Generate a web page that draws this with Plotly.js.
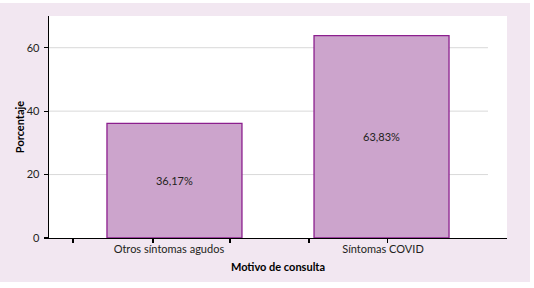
<!DOCTYPE html>
<html>
<head>
<meta charset="utf-8">
<script src="https://cdn.plot.ly/plotly-3.0.1.min.js"></script>
<style>
html,body{margin:0;padding:0;background:#ffffff;}
#chart{position:absolute;left:0;top:3px;width:530px;height:279px;}
</style>
</head>
<body>
<div id="chart"></div>
<script>
const categories = ["Otros síntomas agudos", "Síntomas COVID"];
const values = [36.17, 63.83];
const yTicks = [0, 20, 40, 60];

const xPos = categories.map((c, i) => i + 1);
const labelPos = [0.973, 2.007];
const tickMarks = [0.51, 0.896, 1.268, 1.65, 2.027];

const trace = {
  type: 'bar',
  x: xPos,
  y: values,
  width: 0.652,
  marker: {color: '#CCA4CC', line: {color: '#8C1F8E', width: 1.3}},
  texttemplate: '%{y:.2f}%',
  textposition: 'inside',
  insidetextanchor: 'middle',
  textfont: {family: 'Lato, sans-serif', size: 11, color: '#231F20'},
  hoverinfo: 'none'
};

const gridShapes = yTicks.filter(v => v > 0).map(v => ({
  type: 'line', layer: 'below',
  xref: 'paper', x0: 0, x1: 0.9585,
  yref: 'y', y0: v, y1: v,
  line: {color: '#D9D9D9', width: 1}
}));

const layout = {
  width: 530, height: 279,
  margin: {l: 49, r: 23, t: 13, b: 44, pad: 0},
  paper_bgcolor: '#F2E7F1',
  plot_bgcolor: '#ffffff',
  separators: ',.',
  showlegend: false,
  font: {family: 'Lato, sans-serif', size: 11, color: '#231F20'},
  shapes: gridShapes,
  xaxis: {
    range: [0.394, 2.606],
    tickmode: 'array',
    tickvals: labelPos,
    ticktext: categories,
    ticks: '',
    showgrid: false,
    zeroline: false,
    showline: true, linecolor: '#000000', linewidth: 1.3,
    tickfont: {family: 'Lato, sans-serif', size: 11, color: '#231F20'},
    minor: {tickmode: 'array', tickvals: tickMarks, ticks: 'outside', ticklen: 4, tickwidth: 1.2, tickcolor: '#000000', showgrid: false},
    title: {text: '<b>Motivo de consulta</b>', font: {family: 'Lato, sans-serif', size: 11, color: '#000000'}, standoff: 9},
    fixedrange: true
  },
  yaxis: {
    range: [0, 70],
    tickmode: 'array',
    tickvals: yTicks,
    ticks: 'outside', ticklen: 4, tickwidth: 1.2, tickcolor: '#000000',
    showgrid: false,
    zeroline: false,
    showline: true, linecolor: '#000000', linewidth: 1.3,
    tickfont: {family: 'Lato, sans-serif', size: 11, color: '#231F20'},
    ticklabelstandoff: 2,
    title: {text: '<b>Porcentaje</b>', font: {family: 'Lato, sans-serif', size: 11, color: '#000000'}, standoff: 0},
    fixedrange: true
  }
};

Plotly.newPlot('chart', [trace], layout, {staticPlot: true, displayModeBar: false});
</script>
</body>
</html>
